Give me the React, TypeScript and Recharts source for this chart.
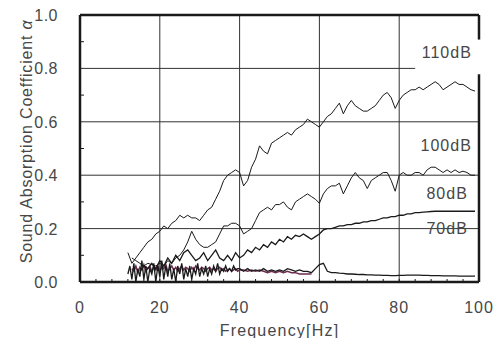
import { LineChart, Line, XAxis, YAxis, ReferenceLine, ReferenceDot } from 'recharts';

// frequency in Hz, one row per Hz
const freqs = [
  12, 13, 14, 15, 16, 17, 18, 19, 20, 21,
  22, 23, 24, 25, 26, 27, 28, 29, 30, 31,
  32, 33, 34, 35, 36, 37, 38, 39, 40, 41,
  42, 43, 44, 45, 46, 47, 48, 49, 50, 51,
  52, 53, 54, 55, 56, 57, 58, 59, 60, 61,
  62, 63, 64, 65, 66, 67, 68, 69, 70, 71,
  72, 73, 74, 75, 76, 77, 78, 79, 80, 81,
  82, 83, 84, 85, 86, 87, 88, 89, 90, 91,
  92, 93, 94, 95, 96, 97, 98, 99, 100,
];

const a110 = [
  0.11, 0.07, 0.09, 0.11, 0.13, 0.15, 0.16, 0.18, 0.19, 0.21,
  0.20, 0.22, 0.23, 0.25, 0.24, 0.25, 0.24, 0.24, 0.23, 0.25,
  0.27, 0.28, 0.31, 0.34, 0.38, 0.40, 0.41, 0.42, 0.41, 0.36,
  0.38, 0.43, 0.46, 0.51, 0.49, 0.48, 0.52, 0.53, 0.54, 0.55,
  0.56, 0.55, 0.57, 0.58, 0.59, 0.61, 0.60, 0.59, 0.58, 0.60,
  0.62, 0.63, 0.65, 0.67, 0.63, 0.66, 0.68, 0.66, 0.65, 0.64,
  0.64, 0.65, 0.66, 0.68, 0.70, 0.71, 0.69, 0.65, 0.68, 0.70,
  0.71, 0.72, 0.72, 0.73, 0.72, 0.73, 0.74, 0.75, 0.74, 0.72,
  0.73, 0.74, 0.75, 0.74, 0.74, 0.73, 0.72, 0.715, null,
];

const a100 = [
  null, 0.09, 0.08, 0.07, 0.06, 0.07, 0.065, 0.06, 0.07, 0.06,
  0.08, 0.07, 0.09, 0.10, 0.12, 0.15, 0.19, 0.16, 0.14, 0.13,
  0.13, 0.14, 0.15, 0.18, 0.21, 0.21, 0.22, 0.22, 0.21, 0.18,
  0.19, 0.20, 0.23, 0.26, 0.27, 0.28, 0.27, 0.29, 0.29, 0.30,
  0.28, 0.27, 0.30, 0.31, 0.32, 0.33, 0.32, 0.31, 0.295, 0.33,
  0.35, 0.36, 0.36, 0.37, 0.33, 0.36, 0.39, 0.41, 0.39, 0.38,
  0.35, 0.38, 0.39, 0.40, 0.41, 0.41, 0.38, 0.34, 0.40, 0.41,
  0.40, 0.40, 0.41, 0.41, 0.40, 0.42, 0.43, 0.43, 0.42, 0.41,
  0.42, 0.41, 0.42, 0.41, 0.415, 0.41, 0.40, 0.40, null,
];

const a80 = [
  null, null, null, 0.04, 0.06, 0.05, 0.07, 0.05, 0.08, 0.06,
  0.09, 0.07, 0.10, 0.08, 0.11, 0.12, 0.10, 0.08, 0.09, 0.11,
  0.08, 0.10, 0.12, 0.09, 0.08, 0.10, 0.08, 0.11, 0.09, 0.10,
  0.12, 0.11, 0.13, 0.12, 0.14, 0.13, 0.15, 0.14, 0.16, 0.15,
  0.17, 0.16, 0.175, 0.17, 0.18, 0.17, 0.16, 0.17, 0.18, 0.195,
  0.20, 0.20, 0.205, 0.21, 0.21, 0.215, 0.215, 0.22, 0.22, 0.225,
  0.225, 0.23, 0.23, 0.235, 0.24, 0.24, 0.245, 0.245, 0.25, 0.25,
  0.255, 0.255, 0.26, 0.26, 0.262, 0.263, 0.264, 0.265, 0.265, 0.265,
  0.265, 0.265, 0.265, 0.265, 0.265, 0.265, 0.265, 0.265, null,
];

// 70dB above 40 Hz (the noisy part below is in a70Fine)
const a70 = [
  null, null, null, null, null, null, null, null, null, null,
  null, null, null, null, null, null, null, null, null, null,
  null, null, null, null, null, null, null, null, 0.05, 0.04,
  0.05, 0.04, 0.045, 0.04, 0.05, 0.04, 0.045, 0.04, 0.045, 0.04,
  0.05, 0.045, 0.04, 0.045, 0.04, 0.04, 0.035, 0.05, 0.065, 0.07,
  0.04, 0.035, 0.035, 0.033, 0.032, 0.03, 0.03, 0.029, 0.028, 0.028,
  0.027, 0.027, 0.026, 0.026, 0.025, 0.025, 0.024, 0.024, 0.025, 0.025,
  0.026, 0.026, 0.026, 0.026, 0.025, 0.025, 0.024, 0.024, 0.024, 0.023,
  0.023, 0.023, 0.023, 0.022, 0.022, 0.022, 0.022, 0.022, null,
];

// unlabelled purple trace near the floor, above 40 Hz
const aLow = [
  null, null, null, null, null, null, null, null, null, null,
  null, null, null, null, null, null, null, null, null, null,
  null, null, null, null, null, null, null, null, 0.045, 0.045,
  0.04, 0.045, 0.04, 0.045, 0.04, 0.035, 0.04, 0.035, 0.04, 0.035,
  0.04, 0.035, 0.035, 0.03, 0.03, 0.03, 0.03, null, null, null,
  null, null, null, null, null, null, null, null, null, null,
  null, null, null, null, null, null, null, null, null, null,
  null, null, null, null, null, null, null, null, null, null,
  null, null, null, null, null, null, null, null, null,
];

// finer sampling (0.5 Hz) of the noisy floor traces below 40 Hz
const fineFreqs = [
  12, 12.5, 13, 13.5, 14, 14.5, 15, 15.5, 16, 16.5,
  17, 17.5, 18, 18.5, 19, 19.5, 20, 20.5, 21, 21.5,
  22, 22.5, 23, 23.5, 24, 24.5, 25, 25.5, 26, 26.5,
  27, 27.5, 28, 28.5, 29, 29.5, 30, 30.5, 31, 31.5,
  32, 32.5, 33, 33.5, 34, 34.5, 35, 35.5, 36, 36.5,
  37, 37.5, 38, 38.5, 39, 39.5, 40,
];

const a70Fine = [
  0.03, 0.06, 0.01, 0.07, 0.00, 0.05, 0.02, 0.08, 0.01, 0.06,
  0.00, 0.05, 0.03, 0.07, 0.00, 0.06, 0.02, 0.08, 0.01, 0.06,
  0.02, 0.07, 0.01, 0.05, 0.00, 0.06, 0.03, 0.07, 0.01, 0.05,
  0.02, 0.06, 0.01, 0.05, 0.03, 0.07, 0.02, 0.05, 0.03, 0.06,
  0.02, 0.05, 0.03, 0.06, 0.04, 0.07, 0.03, 0.05, 0.04, 0.06,
  0.04, 0.05, 0.04, 0.06, 0.045, 0.05, 0.05,
];

const aLowFine = [
  null, null, 0.05, 0.04, 0.06, 0.035, 0.055, 0.045, 0.065, 0.04,
  0.05, 0.06, 0.04, 0.055, 0.045, 0.06, 0.04, 0.055, 0.05, 0.065,
  0.04, 0.05, 0.06, 0.045, 0.055, 0.04, 0.05, 0.06, 0.045, 0.055,
  0.05, 0.04, 0.055, 0.045, 0.06, 0.05, 0.045, 0.055, 0.05, 0.04,
  0.05, 0.055, 0.045, 0.05, 0.04, 0.05, 0.055, 0.045, 0.05, 0.04,
  0.045, 0.05, 0.04, 0.045, 0.05, 0.04, 0.045,
];

const xTicks = [0, 4, 8, 12, 16, 20, 24, 28, 32, 36, 40, 44, 48, 52, 56, 60, 64, 68, 72, 76, 80, 84, 88, 92, 96, 100];
const yTicks = [0, 0.1, 0.2, 0.3, 0.4, 0.5, 0.6, 0.7, 0.8, 0.9, 1.0];
const xGrid = [20, 40, 60, 80];
const yGrid = [0.2, 0.4, 0.6];

const rows = freqs.map((f, i) => ({
  f,
  a110: a110[i],
  a100: a100[i],
  a80: a80[i],
  a70: a70[i],
  aLow: aLow[i],
}));

const fineRows = fineFreqs.map((f, i) => ({ f, a70: a70Fine[i], aLow: aLowFine[i] }));

const FONT = '"Liberation Sans", Arial, sans-serif';
const TXT = '#474747';
const INK = '#1a1a1a';

function XTick({ x, y, payload }: any) {
  const v = payload.value;
  return (
    <g>
      <line x1={x} x2={x} y1={y - 3} y2={y} stroke={INK} strokeWidth={1} />
      {v % 20 === 0 && (
        <text x={x} y={y + 31} textAnchor="middle" fontFamily={FONT} fontSize={16} letterSpacing={1} fill={TXT}>
          {v}
        </text>
      )}
    </g>
  );
}

function YTick({ x, y, payload }: any) {
  const v = payload.value;
  const major = Math.round(v * 10) % 2 === 0;
  return (
    <g>
      {!major && <line x1={x} x2={x + 4} y1={y} y2={y} stroke={INK} strokeWidth={1} />}
      {major && (
        <text x={x - 22} y={y + 6} textAnchor="end" fontFamily={FONT} fontSize={16} letterSpacing={0.5} fill={TXT}>
          {v.toFixed(1)}
        </text>
      )}
    </g>
  );
}

function YTitle({ viewBox }: any) {
  const cx = viewBox.x + 26;
  const cy = viewBox.y + viewBox.height / 2 - 7;
  return (
    <text
      x={cx}
      y={cy}
      transform={`rotate(-90, ${cx}, ${cy})`}
      textAnchor="middle"
      dominantBaseline="central"
      fontFamily={FONT}
      fontSize={16}
      letterSpacing={0.8}
      fill={TXT}
    >
      Sound Absorption Coefficient <tspan fontStyle="italic">α</tspan>
    </text>
  );
}

function DbLabel({ viewBox, text }: any) {
  const x = viewBox.x + viewBox.width / 2;
  const y = viewBox.y + viewBox.height / 2;
  return (
    <text x={x} y={y + 6} textAnchor="end" fontFamily={FONT} fontSize={16} letterSpacing={1} fill={TXT}>
      {text}
    </text>
  );
}

export default function App() {
  return (
    <div style={{ position: 'absolute', left: 0, top: 0, background: '#fff' }}>
      <LineChart width={502} height={338} data={rows} margin={{ top: 15, right: 23, left: 0, bottom: 0 }}>
        <XAxis
          dataKey="f"
          type="number"
          domain={[0, 100]}
          ticks={xTicks}
          interval={0}
          tickSize={0}
          tickMargin={0}
          tickLine={false}
          tick={<XTick />}
          axisLine={{ stroke: INK, strokeWidth: 2.5 }}
          height={56}
          label={{ value: 'Frequency[Hz]', position: 'insideBottom', offset: 2, fontFamily: FONT, fontSize: 16, letterSpacing: 1.2, fill: TXT }}
        />
        <YAxis
          type="number"
          domain={[0, 1]}
          ticks={yTicks}
          interval={0}
          tickSize={0}
          tickMargin={0}
          tickLine={false}
          tick={<YTick />}
          axisLine={{ stroke: INK, strokeWidth: 2.5 }}
          width={80}
          label={<YTitle />}
        />

        {xGrid.map((v) => (
          <ReferenceLine key={`vx${v}`} x={v} stroke="#333" strokeWidth={1} />
        ))}
        {yGrid.map((v) => (
          <ReferenceLine key={`hy${v}`} y={v} stroke="#333" strokeWidth={1} />
        ))}
        <ReferenceLine segment={[{ x: 0, y: 0.8 }, { x: 84, y: 0.8 }]} stroke="#333" strokeWidth={1} />
        <ReferenceLine y={1} stroke={INK} strokeWidth={2.5} />
        <ReferenceLine segment={[{ x: 100, y: 1 }, { x: 100, y: 0.908 }]} stroke={INK} strokeWidth={2.5} />
        <ReferenceLine segment={[{ x: 100, y: 0.778 }, { x: 100, y: 0 }]} stroke={INK} strokeWidth={2.5} />

        <Line data={fineRows} dataKey="aLow" type="linear" stroke="#6b2c4f" strokeWidth={1.5} dot={false} isAnimationActive={false} />
        <Line dataKey="aLow" type="linear" stroke="#6b2c4f" strokeWidth={1.5} dot={false} isAnimationActive={false} />
        <Line data={fineRows} dataKey="a70" type="linear" stroke={INK} strokeWidth={1.3} dot={false} isAnimationActive={false} />
        <Line dataKey="a70" type="linear" stroke={INK} strokeWidth={1.3} dot={false} isAnimationActive={false} />
        <Line dataKey="a80" type="linear" stroke={INK} strokeWidth={1.3} dot={false} isAnimationActive={false} />
        <Line dataKey="a100" type="linear" stroke={INK} strokeWidth={1} dot={false} isAnimationActive={false} />
        <Line dataKey="a110" type="linear" stroke={INK} strokeWidth={1} dot={false} isAnimationActive={false} />

        <ReferenceDot x={98.2} y={0.863} r={0} fill="none" stroke="none" label={<DbLabel text="110dB" />} />
        <ReferenceDot x={98.2} y={0.514} r={0} fill="none" stroke="none" label={<DbLabel text="100dB" />} />
        <ReferenceDot x={97.2} y={0.334} r={0} fill="none" stroke="none" label={<DbLabel text="80dB" />} />
        <ReferenceDot x={97.2} y={0.203} r={0} fill="none" stroke="none" label={<DbLabel text="70dB" />} />
      </LineChart>
    </div>
  );
}
